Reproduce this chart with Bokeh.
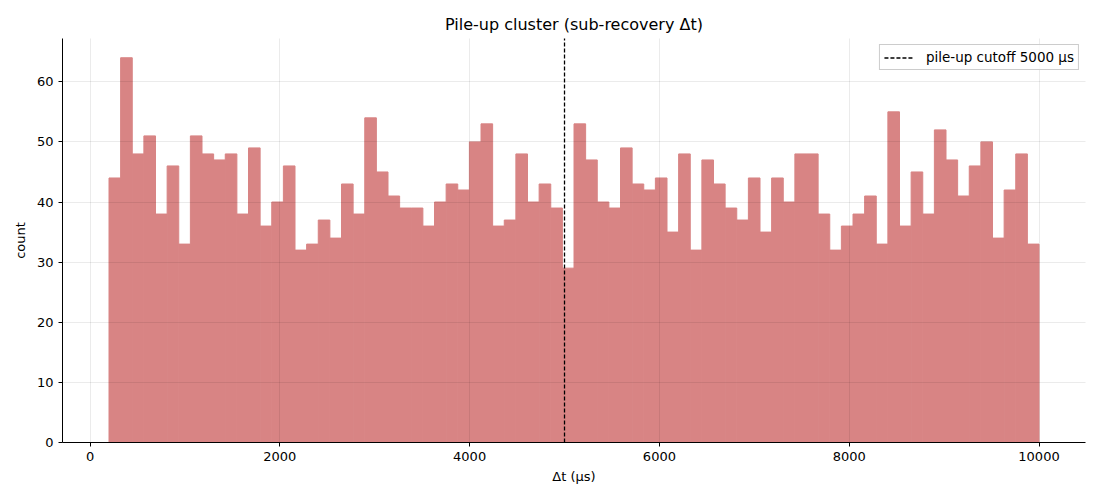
from bokeh.plotting import figure
from bokeh.models import ColumnDataSource, Range1d, FixedTicker, Legend, LegendItem
from bokeh.embed import file_html
from bokeh.resources import INLINE

# ---- data ----
bin_start = 200.0
bin_width = 122.5
counts = [44, 64, 48, 51, 38, 46, 33, 51, 48, 47,
          48, 38, 49, 36, 40, 46, 32, 33, 37, 34,
          43, 38, 54, 45, 41, 39, 39, 36, 40, 43,
          42, 50, 53, 36, 37, 48, 40, 43, 39, 29,
          53, 47, 40, 39, 49, 43, 42, 44, 35, 48,
          32, 47, 43, 39, 37, 44, 35, 44, 40, 48,
          48, 38, 32, 36, 38, 41, 33, 55, 36, 45,
          38, 52, 47, 41, 46, 50, 34, 42, 48, 33]
cutoff = 5000
x_ticks = [0, 2000, 4000, 6000, 8000, 10000]
y_ticks = [0, 10, 20, 30, 40, 50, 60]
title_text = "Pile-up cluster (sub-recovery Δt)"
legend_label = "pile-up cutoff 5000 μs"

lefts = [bin_start + i * bin_width for i in range(len(counts))]
rights = [l + bin_width for l in lefts]
src = ColumnDataSource(dict(left=lefts, right=rights, top=counts, bottom=[0] * len(counts)))

xmin, xmax = bin_start, rights[-1]
pad = (xmax - xmin) * 0.05
ymax = max(counts) * 1.05

FONT = "DejaVu Sans"
BAR = "#d88484"

p = figure(width=1100, height=500, output_backend="svg", toolbar_location=None,
           x_range=Range1d(xmin - pad, xmax + pad), y_range=Range1d(0, ymax),
           min_border_left=62, min_border_right=15, min_border_top=38, min_border_bottom=58)

p.title.text = title_text
p.title.align = "center"
p.title.text_font = FONT
p.title.text_font_size = "16px"
p.title.text_font_style = "normal"
p.title.text_color = "black"
p.title.offset = 0

p.quad(left="left", right="right", top="top", bottom="bottom", source=src,
       fill_color=BAR, fill_alpha=1.0, line_color=BAR, line_width=1.0)

vl = p.line(x=[cutoff, cutoff], y=[-1000, 1000], line_color="black", line_width=1.3,
            line_dash="4 2")

legend = Legend(items=[LegendItem(label=legend_label, renderers=[vl])], location="top_right")
legend.label_text_font = FONT
legend.label_text_font_size = "13.5px"
legend.label_text_color = "black"
legend.border_line_color = "#cccccc"
legend.border_line_alpha = 1
legend.background_fill_alpha = 0.8
legend.padding = 4
legend.spacing = 0
legend.margin = 6
legend.glyph_width = 30
legend.glyph_height = 15
legend.label_height = 15
legend.label_standoff = 12
p.add_layout(legend)

p.outline_line_color = None
for ax in (p.xaxis, p.yaxis):
    ax.axis_line_color = "black"
    ax.major_tick_line_color = "black"
    ax.major_tick_out = 4
    ax.major_tick_in = 0
    ax.minor_tick_line_color = None
    ax.major_label_text_font = FONT
    ax.major_label_text_font_size = "13px"
    ax.major_label_text_color = "black"
    ax.axis_label_text_font = FONT
    ax.axis_label_text_font_size = "13px"
    ax.axis_label_text_font_style = "normal"
    ax.axis_label_text_color = "black"

p.xaxis.ticker = FixedTicker(ticks=x_ticks)
p.yaxis.ticker = FixedTicker(ticks=y_ticks)
p.xaxis.axis_label = "Δt (μs)"
p.yaxis.axis_label = "count"
p.xaxis.axis_label_standoff = 5
p.yaxis.axis_label_standoff = 6

for g in (p.xgrid, p.ygrid):
    g.grid_line_color = "black"
    g.grid_line_alpha = 0.08
    g.level = "annotation"
p.xgrid.ticker = FixedTicker(ticks=x_ticks)
p.ygrid.ticker = FixedTicker(ticks=y_ticks)

open("out.html", "w").write(file_html(p, INLINE))
